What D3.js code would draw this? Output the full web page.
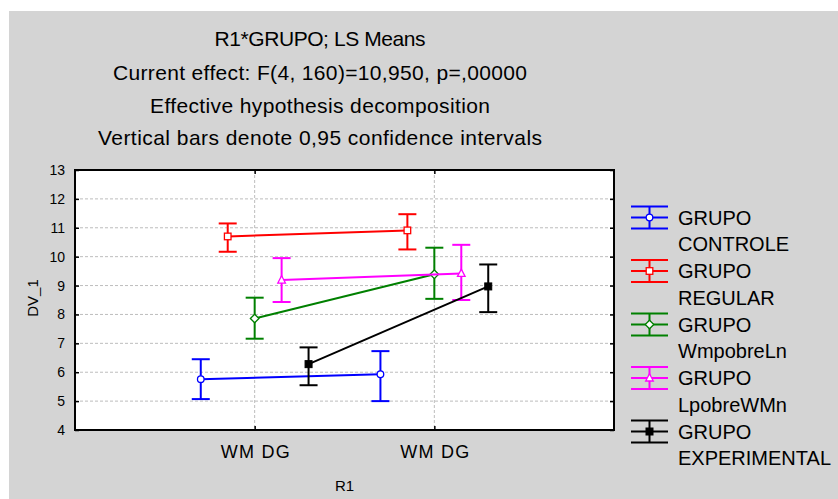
<!DOCTYPE html>
<html><head><meta charset="utf-8">
<script src="https://cdn.jsdelivr.net/npm/d3@7"></script>
<style>
html,body{margin:0;padding:0;background:#fff;}
svg{display:block;font-family:"Liberation Sans",Arial,sans-serif;}
</style></head>
<body>
<svg id="chart" width="838" height="499"></svg>
<script>
// ---- data ----
const titleLines = [
  "R1*GRUPO; LS Means",
  "Current effect: F(4, 160)=10,950, p=,00000",
  "Effective hypothesis decomposition",
  "Vertical bars denote 0,95 confidence intervals"
];
const categories = ["WM DG", "WM DG"];
const yTicks = [4,5,6,7,8,9,10,11,12,13];
const seriesNames = [["GRUPO","CONTROLE"],["GRUPO","REGULAR"],["GRUPO","WmpobreLn"],["GRUPO","LpobreWMn"],["GRUPO","EXPERIMENTAL"]];
const meanControle = [5.76, 5.93];
const lowControle  = [5.07, 5.00];
const highControle = [6.45, 6.73];
const meanRegular = [10.70, 10.91];
const lowRegular  = [10.17, 10.25];
const highRegular = [11.15, 11.47];
const meanWmpobre = [7.86, 9.39];
const lowWmpobre  = [7.16, 8.54];
const highWmpobre = [8.58, 10.31];
const meanLpobre = [9.19, 9.42];
const lowLpobre  = [8.43, 8.50];
const highLpobre = [9.95, 10.41];
const meanExper = [6.28, 8.97];
const lowExper  = [5.55, 8.08];
const highExper = [6.86, 9.73];

const series = [
  {name: seriesNames[0], mean: meanControle, low: lowControle, high: highControle},
  {name: seriesNames[1], mean: meanRegular, low: lowRegular, high: highRegular},
  {name: seriesNames[2], mean: meanWmpobre, low: lowWmpobre, high: highWmpobre},
  {name: seriesNames[3], mean: meanLpobre, low: lowLpobre, high: highLpobre},
  {name: seriesNames[4], mean: meanExper, low: lowExper, high: highExper}
];
// ---- styles ----
const colors = ["#0000ff","#ff0000","#008000","#ff00ff","#000000"];
const markers = ["circle","square","diamond","triangle","filledSquare"];

const svg = d3.select("#chart");
svg.append("rect").attr("x",9).attr("y",11).attr("width",829).attr("height",488).attr("fill","#d4d4d4");

const L=75, R=614, T=170, B=430;
const x = d3.scaleLinear().domain([0, categories.length+1]).range([L,R]);
const y = d3.scaleLinear().domain([4,13]).range([B,T]);

// title
const tW = [211, 414, 340, 444];
const tBase = [46, 79.5, 112.5, 145];
titleLines.forEach((t,i)=>{
  svg.append("text").attr("x",320).attr("y",tBase[i]).attr("text-anchor","middle")
    .attr("font-size",21).attr("textLength",tW[i]).attr("lengthAdjust","spacing").attr("fill","#000").text(t);
});

// plot bg
svg.append("rect").attr("x",L).attr("y",T).attr("width",R-L).attr("height",B-T).attr("fill","#fff");

// grid
const g = svg.append("g");
g.selectAll("line.hg").data(yTicks.filter(v=>v>4&&v<13)).join("line")
  .attr("x1",L).attr("x2",R).attr("y1",d=>y(d)).attr("y2",d=>y(d))
  .attr("stroke","#bdbdbd").attr("stroke-width",1).attr("stroke-dasharray","3,2");
g.selectAll("line.vg").data(categories).join("line")
  .attr("x1",(d,i)=>x(i+1)).attr("x2",(d,i)=>x(i+1)).attr("y1",T).attr("y2",B)
  .attr("stroke","#bdbdbd").attr("stroke-width",1).attr("stroke-dasharray","3,2");

// axes
const yAxisL = d3.axisLeft(y).tickValues(yTicks).tickSize(-4).tickPadding(10);
const ga = svg.append("g").attr("transform",`translate(${L},0)`).call(yAxisL);
ga.select(".domain").remove();
ga.selectAll("line").attr("stroke","#000").attr("stroke-width",1.5);
ga.selectAll("text").attr("font-size",14).attr("fill","#000").attr("font-family","Liberation Sans, Arial, sans-serif");
const yAxisR = d3.axisRight(y).tickValues(yTicks).tickSize(-4).tickFormat("");
const gr = svg.append("g").attr("transform",`translate(${R},0)`).call(yAxisR);
gr.select(".domain").remove();
gr.selectAll("line").attr("stroke","#000").attr("stroke-width",1.5);

const xAxisB = d3.axisBottom(x).tickValues(categories.map((c,i)=>i+1)).tickSize(-4).tickPadding(18)
  .tickFormat((d)=>categories[d-1]);
const gb = svg.append("g").attr("transform",`translate(0,${B})`).call(xAxisB);
gb.select(".domain").remove();
gb.selectAll("line").attr("stroke","#000").attr("stroke-width",1.5);
gb.selectAll("text").attr("font-size",18).attr("fill","#000").attr("font-family","Liberation Sans, Arial, sans-serif")
  .attr("dy",null).attr("y",27.5).attr("textLength",69).attr("lengthAdjust","spacing");
const xAxisT = d3.axisTop(x).tickValues(categories.map((c,i)=>i+1)).tickSize(-4).tickFormat("");
const gt = svg.append("g").attr("transform",`translate(0,${T})`).call(xAxisT);
gt.select(".domain").remove();
gt.selectAll("line").attr("stroke","#000").attr("stroke-width",1.5);

// frame
svg.append("rect").attr("x",L).attr("y",T).attr("width",R-L).attr("height",B-T)
  .attr("fill","none").attr("stroke","#000").attr("stroke-width",2);

// axis titles
svg.append("text").attr("x",344.5).attr("y",491).attr("text-anchor","middle").attr("font-size",15).text("R1");
svg.append("text").attr("transform","translate(38,298) rotate(-90)").attr("text-anchor","middle").attr("font-size",15).text("DV_1");

// marker drawing
function drawMarker(sel, type, color, cx, cy){
  if(type==="circle"){
    sel.append("circle").attr("cx",cx).attr("cy",cy).attr("r",3.3).attr("fill","#fff").attr("stroke",color).attr("stroke-width",1.3);
  } else if(type==="square"){
    sel.append("rect").attr("x",cx-3.3).attr("y",cy-3.3).attr("width",6.6).attr("height",6.6).attr("fill","#fff").attr("stroke",color).attr("stroke-width",1.3);
  } else if(type==="diamond"){
    sel.append("path").attr("d",`M${cx},${cy-4.3}L${cx+4.3},${cy}L${cx},${cy+4.3}L${cx-4.3},${cy}Z`).attr("fill","#fff").attr("stroke",color).attr("stroke-width",1.3);
  } else if(type==="triangle"){
    sel.append("path").attr("d",`M${cx},${cy-4.3}L${cx+3.8},${cy+3}L${cx-3.8},${cy+3}Z`).attr("fill","#fff").attr("stroke",color).attr("stroke-width",1.3);
  } else {
    sel.append("rect").attr("x",cx-3.5).attr("y",cy-3.5).attr("width",7).attr("height",7).attr("fill",color).attr("stroke",color).attr("stroke-width",1);
  }
}

// series
const plot = svg.append("g");
const capW = 9;
series.forEach((s,si)=>{
  const off = (si-2)*0.15;
  const color = colors[si];
  const gs = plot.append("g");
  const line = d3.line().x((d,i)=>x(i+1+off)).y(d=>y(d));
  gs.append("path").attr("d",line(s.mean)).attr("fill","none").attr("stroke",color).attr("stroke-width",2);
  s.mean.forEach((m,i)=>{
    const cx = x(i+1+off);
    gs.append("line").attr("x1",cx).attr("x2",cx).attr("y1",y(s.low[i])).attr("y2",y(s.high[i])).attr("stroke",color).attr("stroke-width",2);
    gs.append("line").attr("x1",cx-capW).attr("x2",cx+capW).attr("y1",y(s.low[i])).attr("y2",y(s.low[i])).attr("stroke",color).attr("stroke-width",2);
    gs.append("line").attr("x1",cx-capW).attr("x2",cx+capW).attr("y1",y(s.high[i])).attr("y2",y(s.high[i])).attr("stroke",color).attr("stroke-width",2);
  });
  s.mean.forEach((m,i)=>drawMarker(gs, markers[si], color, x(i+1+off), y(m)));
});

// legend
const lg = svg.append("g");
series.forEach((s,si)=>{
  const cy = 217.5 + si*53.5;
  const color = colors[si];
  const sx = 649.5;
  lg.append("line").attr("x1",sx).attr("x2",sx).attr("y1",cy-11).attr("y2",cy+11).attr("stroke",color).attr("stroke-width",2);
  [-11,0,11].forEach(dy=>{
    lg.append("line").attr("x1",sx-18.5).attr("x2",sx+18.5).attr("y1",cy+dy).attr("y2",cy+dy).attr("stroke",color).attr("stroke-width",2);
  });
  drawMarker(lg, markers[si], color, sx, cy);
  s.name.forEach((t,k)=>{
    lg.append("text").attr("x",678).attr("y",cy+7.2+k*26.6).attr("font-size",20).attr("fill","#000").text(t);
  });
});
</script>
</body></html>
